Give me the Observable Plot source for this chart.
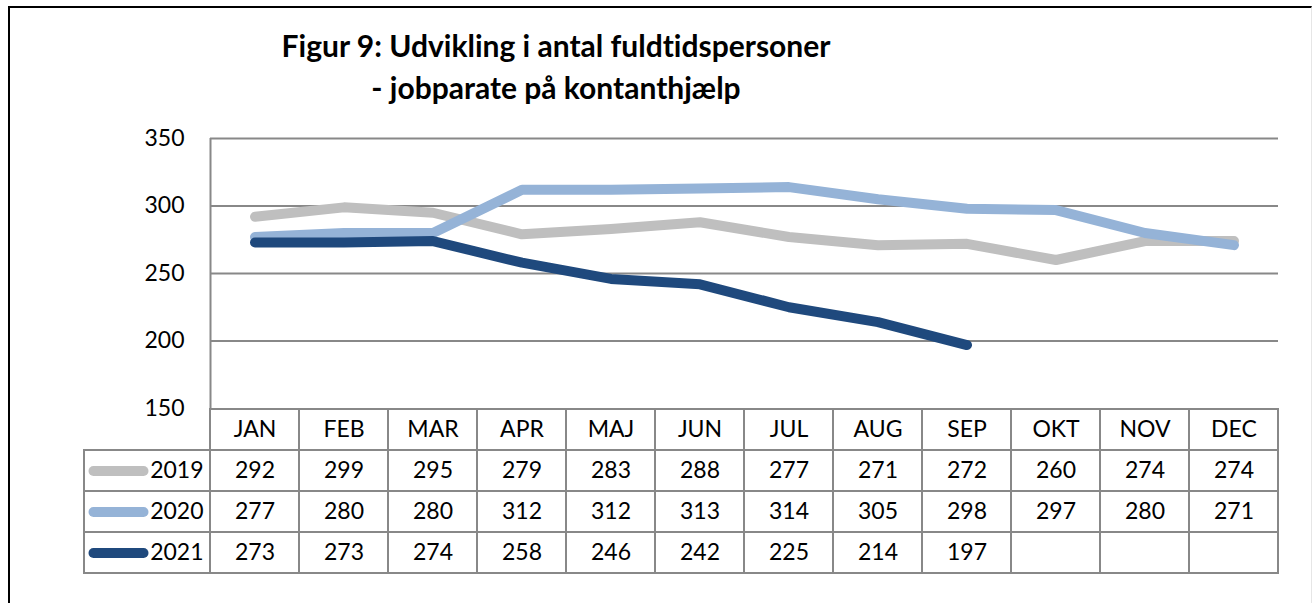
<!DOCTYPE html>
<html>
<head>
<meta charset="utf-8">
<script src="https://cdn.jsdelivr.net/npm/d3@7"></script>
<script src="https://cdn.jsdelivr.net/npm/@observablehq/plot@0.6"></script>
<style>
  html, body { margin: 0; padding: 0; background: #fff; }
  #wrap { position: relative; width: 1312px; height: 603px; overflow: hidden; font-family: Lato, "Open Sans", sans-serif; font-variant-ligatures: none; }
  #frame { position: absolute; left: 8px; top: 6px; width: 1301px; height: 700px; border-top: 2.5px solid #000; border-left: 2.5px solid #000; border-right: 1px solid #e6e6e6; pointer-events: none; z-index: 5; }
  #title { position: absolute; left: 0; top: 24px; width: 1112px; text-align: center; font-weight: 700; font-size: 30px; line-height: 42px; color: #000; z-index: 4; font-variant-ligatures: none; }
  #wrap svg { display: block; overflow: visible; font-variant-ligatures: none; }
</style>
</head>
<body>
<div id="wrap">
  <div id="title">Figur 9: Udvikling i antal fuldtidspersoner<br>- jobparate på kontanthjælp</div>
  <div id="chart"></div>
  <div id="frame"></div>
</div>
<script>
// ---- data ----
const months = ["JAN","FEB","MAR","APR","MAJ","JUN","JUL","AUG","SEP","OKT","NOV","DEC"];
const years = ["2019","2020","2021"];
const v2019 = [292,299,295,279,283,288,277,271,272,260,274,274];
const v2020 = [277,280,280,312,312,313,314,305,298,297,280,271];
const v2021 = [273,273,274,258,246,242,225,214,197];
const yTicks = [150,200,250,300,350];
const colors = ["#BFBFBF","#95B3D7","#1F497D"];

const seriesValues = {"2019": v2019, "2020": v2020, "2021": v2021};
const rows = [];
for (const yr of years) seriesValues[yr].forEach((v, i) => rows.push({year: yr, i, month: months[i], value: v}));

const font = "Lato, 'Open Sans', sans-serif";
const gridColor = "#888";
const W = 1312;
const legendW = 126 / 89; // legend column width in month units

// ---- chart plot ----
const chart = Plot.plot({
  width: W, height: 408,
  marginTop: 138, marginBottom: 0, marginLeft: 210, marginRight: 34,
  style: {fontFamily: font, fontSize: "23px", color: "#000", background: "transparent", overflow: "visible"},
  x: {domain: [0, 12], axis: null},
  y: {domain: [150, 350]},
  color: {domain: years, range: colors},
  marks: [
    Plot.ruleY(yTicks.filter(t => t > 150), {stroke: gridColor, strokeWidth: 2}),
    Plot.ruleX([0], {y1: 150, y2: 350, stroke: gridColor, strokeWidth: 2}),
    Plot.axisY({ticks: yTicks, tickSize: 0, tickPadding: 26, label: null, fontSize: 23, fill: "#000"}),
    Plot.line(rows, {x: d => d.i + 0.5, y: "value", z: "year", stroke: "year",
      strokeWidth: 10, strokeLinecap: "round", strokeLinejoin: "round"})
  ]
});

// ---- data table plot ----
const cells = [];
months.forEach((m, i) => {
  cells.push({row: "hdr", x1: i, x2: i + 1});
  for (const yr of years) cells.push({row: yr, x1: i, x2: i + 1});
});
for (const yr of years) cells.push({row: yr, x1: -legendW, x2: 0});

const table = Plot.plot({
  width: W, height: 195,
  marginTop: 0, marginBottom: 29, marginLeft: 84, marginRight: 34,
  style: {fontFamily: font, fontSize: "23px", color: "#000", background: "transparent", overflow: "visible"},
  x: {domain: [-legendW, 12], axis: null},
  y: {domain: ["hdr", ...years], axis: null, padding: 0},
  color: {domain: years, range: colors},
  marks: [
    Plot.barX(cells, {x1: "x1", x2: "x2", y: "row", fill: "none", stroke: gridColor, strokeWidth: 2}),
    Plot.text(months, {x: (d, i) => i + 0.5, y: () => "hdr", text: d => d, fontSize: 23, fill: "#000"}),
    Plot.text(rows, {x: d => d.i + 0.5, y: "year", text: d => String(d.value), fontSize: 23, fill: "#000"}),
    Plot.text(years, {x: () => 0, y: d => d, text: d => d, textAnchor: "end", dx: -7, fontSize: 23, fill: "#000"}),
    Plot.link(years, {x1: () => -legendW + 9 / 89, x2: () => -legendW + 59 / 89, y1: d => d, y2: d => d,
      stroke: d => d, strokeWidth: 10, strokeLinecap: "round"})
  ]
});

document.getElementById("chart").append(chart, table);
</script>
</body>
</html>
